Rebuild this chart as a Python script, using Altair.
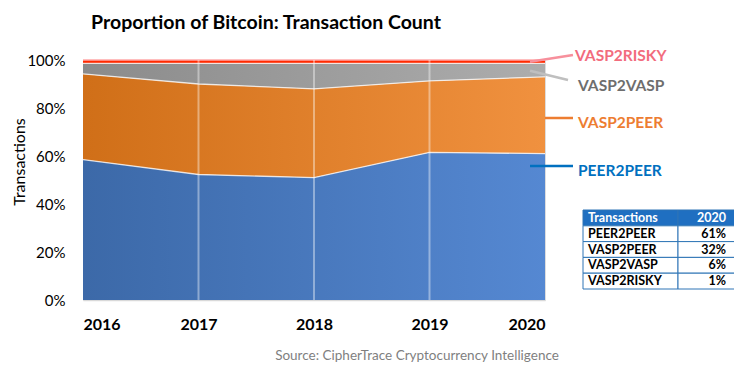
import altair as alt
import pandas as pd

years = [2016, 2017, 2018, 2019, 2020]
series_names = ["PEER2PEER", "VASP2PEER", "VASP2VASP", "VASP2RISKY"]
peer2peer = [0.585, 0.523, 0.510, 0.615, 0.610]
vasp2peer = [0.357, 0.377, 0.370, 0.298, 0.320]
vasp2vasp = [0.044, 0.086, 0.106, 0.073, 0.056]
vasp2risky = [0.014, 0.014, 0.014, 0.014, 0.014]
grid_years = [2017, 2018, 2019]
y_ticks = [0, 0.2, 0.4, 0.6, 0.8, 1.0]

table_header = ["Transactions", "2020"]
table_labels = ["PEER2PEER", "VASP2PEER", "VASP2VASP", "VASP2RISKY"]
table_pct = [61, 32, 6, 1]

title_text = "Proportion of Bitcoin: Transaction Count"
source_text = "Source: CipherTrace Cryptocurrency Intelligence"
FONT = "Lato"

# long table with cumulative bounds
rows = []
all_vals = [peer2peer, vasp2peer, vasp2vasp, vasp2risky]
for i, yr in enumerate(years):
    c = 0.0
    for name, vals in zip(series_names, all_vals):
        rows.append({"year": yr, "series": name, "y0": c, "y1": c + vals[i]})
        c += vals[i]
df = pd.DataFrame(rows)


def grad(c0, c1):
    return alt.Gradient(gradient="linear", x1=0, x2=1, y1=0, y2=0,
                        stops=[alt.GradientStop(color=c0, offset=0),
                               alt.GradientStop(color=c1, offset=1)])


gradients = {
    "PEER2PEER": grad("#3C69A8", "#5588D2"),
    "VASP2PEER": grad("#D06F18", "#F0913F"),
    "VASP2VASP": grad("#8B8B8B", "#ADADAD"),
    "VASP2RISKY": grad("#FF2A00", "#FF2A00"),
}

xscale = alt.Scale(domain=[2016, 2020], nice=False, zero=False)
yscale = alt.Scale(domain=[0, 1], nice=False)
xaxis = alt.Axis(values=years, format="d", title=None, grid=False, ticks=False,
                 domain=True, domainColor="#D9D9D9", domainWidth=1.5,
                 labelFont=FONT, labelFontSize=16, labelFontWeight="bold",
                 labelColor="black", labelPadding=16)
yaxis = alt.Axis(values=y_ticks, format=".0%", title=None, grid=False, ticks=False,
                 domain=False, labelFont=FONT, labelFontSize=15, labelColor="black",
                 labelPadding=18)

base = alt.Chart(df)
layers = []
for k, name in enumerate(series_names):
    layers.append(
        base.transform_filter(alt.datum.series == name)
        .mark_area(color=gradients[name])
        .encode(x=alt.X("year:Q", scale=xscale, axis=xaxis),
                y=alt.Y("y1:Q", scale=yscale, axis=yaxis if k == 0 else None),
                y2="y0:Q")
    )

# boundaries between areas
for name in series_names[:3]:
    layers.append(
        base.transform_filter(alt.datum.series == name)
        .mark_line(color="white", strokeWidth=1.3, opacity=0.75)
        .encode(x=alt.X("year:Q", scale=xscale, axis=xaxis),
                y=alt.Y("y1:Q", scale=yscale, axis=None))
    )
layers.append(
    base.transform_filter(alt.datum.series == "VASP2RISKY")
    .mark_line(color="#FFA8A8", strokeWidth=1.5)
    .encode(x=alt.X("year:Q", scale=xscale, axis=xaxis),
            y=alt.Y("y1:Q", scale=yscale, axis=None))
)

# vertical light grid lines
layers.append(
    alt.Chart(pd.DataFrame({"year": grid_years}))
    .mark_rule(color="white", strokeWidth=2, opacity=0.4)
    .encode(x=alt.X("year:Q", scale=xscale, axis=xaxis))
)

# title, axis title, source
layers.append(alt.Chart(pd.DataFrame({"t": [title_text]})).mark_text(
    font=FONT, fontSize=19.5, fontWeight="bold", color="black", align="center", baseline="middle"
).encode(text="t:N", x=alt.value(183), y=alt.value(-37)))
layers.append(alt.Chart(pd.DataFrame({"t": ["Transactions"]})).mark_text(
    font=FONT, fontSize=16, color="black", align="center", baseline="middle", angle=270
).encode(text="t:N", x=alt.value(-63), y=alt.value(102)))
layers.append(alt.Chart(pd.DataFrame({"t": [source_text]})).mark_text(
    font=FONT, fontSize=13.5, color="#7F7F7F", align="center", baseline="middle"
).encode(text="t:N", x=alt.value(334), y=alt.value(296)))

# callouts
callout_colors = {"VASP2RISKY": "#F26C7D", "VASP2VASP": "#6E6E6E",
                  "VASP2PEER": "#ED7D31", "PEER2PEER": "#0070C0"}
line_colors = {"VASP2RISKY": "#F7909C", "VASP2VASP": "#BFBFBF",
               "VASP2PEER": "#ED7D31", "PEER2PEER": "#0070C0"}
callout_text_pos = {"VASP2RISKY": (492, -4.5), "VASP2VASP": (495, 25.5),
                    "VASP2PEER": (495, 62.5), "PEER2PEER": (495, 110.5)}
callout_line_pos = {"VASP2RISKY": (447, 1.7, 490, -5), "VASP2VASP": (447, 10.7, 485, 20),
                    "VASP2PEER": (462, 58, 490, 58), "PEER2PEER": (447, 106, 490, 106)}
for name in series_names:
    x1, y1, x2, y2 = callout_line_pos[name]
    layers.append(alt.Chart(pd.DataFrame({"s": [name]})).mark_rule(
        color=line_colors[name], strokeWidth=2.5
    ).encode(x=alt.value(x1), y=alt.value(y1), x2=alt.value(x2), y2=alt.value(y2)))
    tx, ty = callout_text_pos[name]
    layers.append(alt.Chart(pd.DataFrame({"s": [name]})).mark_text(
        font=FONT, fontSize=15.5, fontWeight="bold", color=callout_colors[name],
        align="left", baseline="middle"
    ).encode(text="s:N", x=alt.value(tx), y=alt.value(ty)))

# table
trows = [table_header[0]] + table_labels
tvals = [table_header[1]] + [f"{v}%" for v in table_pct]
tdf = pd.DataFrame({"row": trows, "val": tvals, "hdr": [1, 0, 0, 0, 0]})
tscale = alt.Scale(domain=trows, range=[150, 229], paddingInner=0, paddingOuter=0)
tbase = alt.Chart(tdf)
fill = alt.condition(alt.datum.hdr == 1, alt.value("#1F6FC1"), alt.value("white"))
for (xa, xb) in [(500, 595), (595, 652)]:
    layers.append(tbase.mark_rect(stroke="#2E75B6", strokeWidth=1).encode(
        y=alt.Y("row:N", scale=tscale, axis=None), fill=fill,
        x=alt.value(xa), x2=alt.value(xb)))
tcolor = alt.condition(alt.datum.hdr == 1, alt.value("white"), alt.value("black"))
layers.append(tbase.mark_text(font=FONT, fontSize=12.5, fontWeight="bold", align="left",
                              baseline="middle").encode(
    y=alt.Y("row:N", scale=tscale, axis=None), text="row:N", color=tcolor, x=alt.value(505)))
layers.append(tbase.mark_text(font=FONT, fontSize=12.5, fontWeight="bold", align="right",
                              baseline="middle").encode(
    y=alt.Y("row:N", scale=tscale, axis=None), text="val:N", color=tcolor, x=alt.value(643)))

chart = alt.layer(*layers).resolve_scale(y="independent").properties(
    width=462, height=240,
    autosize=alt.AutoSizeParams(type="none"),
    padding={"left": 75, "top": 52, "right": 189, "bottom": 64},
).configure_view(stroke=None).configure(background="white")

chart.save("out.html", embed_options={"renderer": "svg", "actions": False})
